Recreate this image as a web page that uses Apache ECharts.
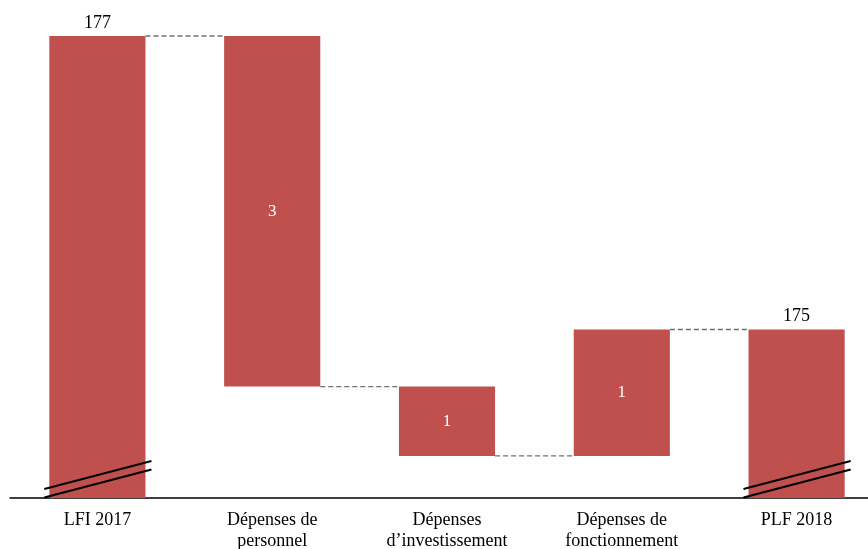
<!DOCTYPE html>
<html>
<head>
<meta charset="utf-8">
<script src="https://cdn.jsdelivr.net/npm/echarts@6/dist/echarts.min.js"></script>
<style>
  html, body { margin: 0; padding: 0; background: #fff; }
  #chart { width: 868px; height: 549px; }
</style>
</head>
<body>
<div id="chart"></div>
<script>
// Budget bridge LFI 2017 -> PLF 2018 (Md€)
const categories = ['LFI 2017', 'Dépenses de\npersonnel', 'Dépenses\nd’investissement', 'Dépenses de\nfonctionnement', 'PLF 2018'];
const startTotal = 177.4;
const changes = [-2.58, -0.51, 0.93];     // personnel, investissement, fonctionnement
const axisMin = 174;

// Build waterfall: invisible base + visible segment
const base = [];
const visible = [];
const labelValues = [];
const levels = [];          // running level after each step (for connectors)
let level = startTotal;
base.push(0); visible.push(startTotal); labelValues.push(startTotal); levels.push(level);
changes.forEach(c => {
  const next = level + c;
  base.push(Math.min(level, next));
  visible.push(Math.abs(c));
  labelValues.push(c);
  level = next;
  levels.push(level);
});
const endTotal = level;
base.push(0); visible.push(endTotal); labelValues.push(endTotal); levels.push(endTotal);

const isTotal = i => i === 0 || i === categories.length - 1;

const serif = '"Liberation Serif", "DejaVu Serif", serif';
const red = '#C0504D';

const chart = echarts.init(document.getElementById('chart'));
chart.setOption({
  animation: false,
  grid: { left: 10, width: 874, top: 36, bottom: 51, containLabel: false, outerBoundsMode: 'none' },
  xAxis: {
    type: 'category',
    data: categories,
    axisTick: { show: false },
    axisLine: { lineStyle: { color: '#000', width: 1.5 } },
    axisLabel: { color: '#000', fontFamily: serif, fontSize: 18, lineHeight: 21, margin: 12, interval: 0 }
  },
  yAxis: {
    type: 'value', min: axisMin, max: startTotal,
    show: false, splitLine: { show: false }
  },
  series: [
    {
      type: 'bar', stack: 'w', barWidth: '55%', silent: true,
      itemStyle: { color: 'transparent' },
      data: base
    },
    {
      type: 'bar', stack: 'w', barWidth: '55%',
      itemStyle: { color: red },
      data: visible.map((v, i) => ({
        value: v,
        label: isTotal(i)
          ? { show: true, position: 'top', distance: 4, color: '#000', fontSize: 18, fontFamily: serif,
              formatter: () => String(Math.round(labelValues[i])) }
          : { show: true, position: 'inside', color: '#fff', fontSize: 17, fontFamily: serif,
              formatter: () => String(Math.round(Math.abs(labelValues[i]))) }
      }))
    },
    {
      // dashed connectors between consecutive bars
      type: 'custom', silent: true, z: 1,
      data: levels.slice(0, -1).map((lv, i) => [i, lv]),
      renderItem: (params, api) => {
        const i = api.value(0);
        const lv = api.value(1);
        const bw = api.size([1, 0])[0] * 0.55;
        const p1 = api.coord([i, lv]);
        const p2 = api.coord([i + 1, lv]);
        return {
          type: 'line',
          shape: { x1: p1[0] + bw / 2, y1: p1[1], x2: p2[0] - bw / 2, y2: p2[1] },
          style: { stroke: '#6f6f6f', lineWidth: 1.3, lineDash: [5, 3] }
        };
      }
    },
    {
      // axis-break marks on the total bars
      type: 'custom', silent: true, z: 5,
      data: [[0, axisMin], [categories.length - 1, axisMin]],
      renderItem: (params, api) => {
        const i = api.value(0);
        const bw = api.size([1, 0])[0] * 0.55;
        const p = api.coord([i, api.value(1)]);
        const x1 = p[0] - bw / 2 - 5, x2 = p[0] + bw / 2 + 6;
        const mk = (dy) => ({
          type: 'line',
          shape: { x1: x1, y1: p[1] - 9 + dy, x2: x2, y2: p[1] - 37 + dy },
          style: { stroke: '#000', lineWidth: 2 }
        });
        return { type: 'group', children: [mk(0), mk(8.5)] };
      }
    }
  ]
});
</script>
</body>
</html>
